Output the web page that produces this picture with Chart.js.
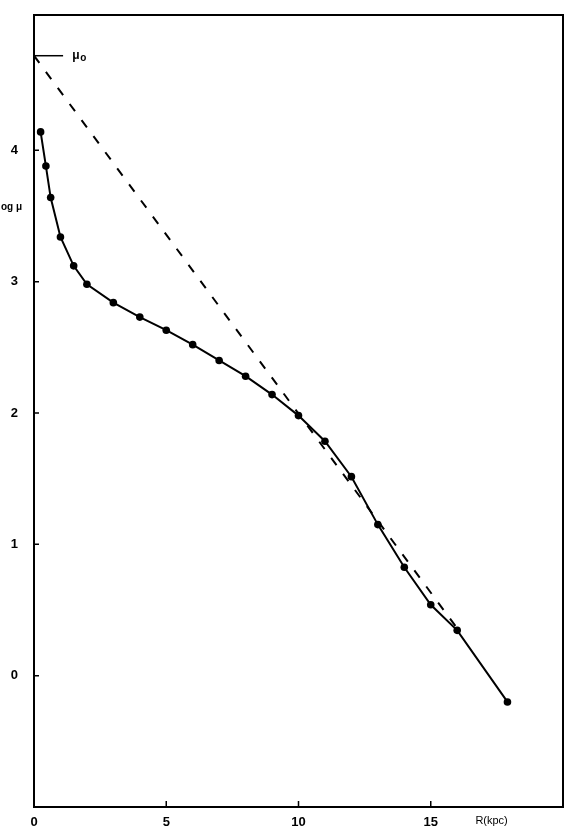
<!DOCTYPE html>
<html>
<head>
<meta charset="utf-8">
<script src="https://cdn.jsdelivr.net/npm/chart.js@4"></script>
<style>
  html, body { margin: 0; padding: 0; background: #fff; }
  #wrap { width: 570px; height: 839px; }
</style>
</head>
<body>
<div id="wrap"><canvas id="chart" width="570" height="839"></canvas></div>
<script>
// measured profile: radius (kpc) vs log mu
const radius = [0.25, 0.45, 0.63, 1, 1.5, 2, 3, 4, 5, 6, 7, 8, 9, 10, 11, 12, 13, 14, 15, 16, 17.9];
const logMu = [4.14, 3.88, 3.64, 3.34, 3.12, 2.98, 2.84, 2.73, 2.63, 2.52, 2.40, 2.28, 2.14, 1.98, 1.785, 1.515, 1.15, 0.825, 0.54, 0.345, -0.20];

// dashed exponential fit
const fitR = [0, 16];
const fitMu = [4.72, 0.36];

// mu_0 marker
const mu0R = [0, 1.1];
const mu0Val = [4.72, 4.72];

const xTicks = [0, 5, 10, 15];
const yTicks = [0, 1, 2, 3, 4];

function toPoints(xs, ys) {
  return xs.map((x, i) => ({ x: x, y: ys[i] }));
}

const labelFont = 'Liberation Sans, Arial, sans-serif';

// frame, inward ticks, tick labels and extra text
const framePlugin = {
  id: 'frame',
  afterDraw(chart) {
    const { ctx, chartArea, scales } = chart;
    ctx.save();
    ctx.strokeStyle = '#000';
    ctx.lineWidth = 2;
    ctx.strokeRect(chartArea.left, chartArea.top, chartArea.right - chartArea.left, chartArea.bottom - chartArea.top);

    ctx.lineWidth = 1.5;
    ctx.beginPath();
    xTicks.forEach(v => {
      const px = scales.x.getPixelForValue(v);
      ctx.moveTo(px, chartArea.bottom);
      ctx.lineTo(px, chartArea.bottom - 6);
    });
    yTicks.forEach(v => {
      const py = scales.y.getPixelForValue(v);
      ctx.moveTo(chartArea.left, py);
      ctx.lineTo(chartArea.left + 5, py);
    });
    ctx.stroke();

    ctx.fillStyle = '#000';
    ctx.textBaseline = 'middle';
    ctx.font = 'bold 13px ' + labelFont;

    ctx.textAlign = 'center';
    xTicks.forEach(v => {
      ctx.fillText(String(v), scales.x.getPixelForValue(v), chartArea.bottom + 15);
    });
    ctx.textAlign = 'right';
    yTicks.forEach(v => {
      ctx.fillText(String(v), 18, scales.y.getPixelForValue(v));
    });

    // axis titles
    ctx.font = '11px ' + labelFont;
    ctx.textAlign = 'center';
    ctx.fillText('R(kpc)', scales.x.getPixelForValue(17.3), chartArea.bottom + 14);

    ctx.font = 'bold 10px ' + labelFont;
    ctx.textAlign = 'left';
    ctx.fillText('og μ', 1, scales.y.getPixelForValue(3.57));

    // mu_0 label
    const my = scales.y.getPixelForValue(4.72);
    const mx = scales.x.getPixelForValue(1.45);
    ctx.font = 'bold 12px ' + labelFont;
    ctx.fillText('μ', mx, my);
    ctx.font = 'bold 10px ' + labelFont;
    ctx.fillText('o', mx + 8, my + 3);
    ctx.restore();
  }
};

new Chart(document.getElementById('chart'), {
  type: 'line',
  data: {
    datasets: [
      {
        label: 'profile',
        data: toPoints(radius, logMu),
        borderColor: '#000',
        backgroundColor: '#000',
        borderWidth: 2,
        pointRadius: 3.8,
        pointBorderWidth: 0,
        tension: 0
      },
      {
        label: 'fit',
        data: toPoints(fitR, fitMu),
        borderColor: '#000',
        borderWidth: 2,
        borderDash: [9, 11],
        pointRadius: 0,
        tension: 0
      },
      {
        label: 'mu0',
        data: toPoints(mu0R, mu0Val),
        borderColor: '#000',
        borderWidth: 1.5,
        pointRadius: 0,
        tension: 0
      }
    ]
  },
  options: {
    responsive: false,
    animation: false,
    layout: { padding: { top: 15, right: 7, left: 34, bottom: 32 } },
    plugins: {
      legend: { display: false },
      tooltip: { enabled: false }
    },
    scales: {
      x: { type: 'linear', min: 0, max: 20, display: false },
      y: { type: 'linear', min: -1, max: 5.03, display: false }
    }
  },
  plugins: [framePlugin]
});
</script>
</body>
</html>
